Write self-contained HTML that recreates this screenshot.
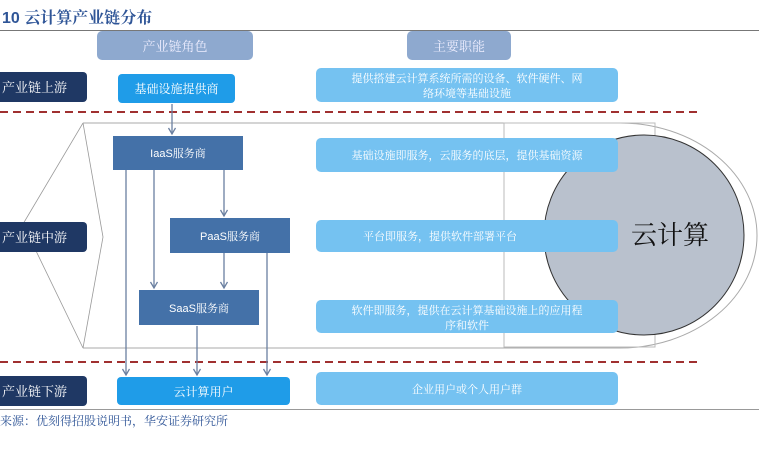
<!DOCTYPE html>
<html><head><meta charset="utf-8"><style>
html,body{margin:0;padding:0;background:#fff;width:759px;height:449px;overflow:hidden}
svg text{font-family:"Liberation Sans","Noto Serif CJK SC","Noto Sans CJK SC",sans-serif}
</style></head><body>
<svg width="759" height="449" viewBox="0 0 759 449" xmlns="http://www.w3.org/2000/svg">
<defs><marker id="a" markerWidth="9" markerHeight="9" refX="7" refY="4" orient="auto" markerUnits="userSpaceOnUse"><path d="M1,0.5 L7,4 L1,7.5" fill="none" stroke="#6a7fa0" stroke-width="1.3"/></marker></defs>
<text x="2" y="23" font-size="16" font-weight="bold" fill="#2f5597">10 云计算产业链分布</text>
<line x1="0" y1="30.5" x2="759" y2="30.5" stroke="#777" stroke-width="1"/>
<path d="M83,123 L620,123 A137,112.5 0 0 1 620,348 L83,348" fill="none" stroke="#aaa" stroke-width="1"/>
<path d="M83,123 L23,224 L83,348 M83,123 L103,237 L83,348" fill="none" stroke="#999" stroke-width="0.8"/>
<rect x="504" y="123" width="151" height="224" fill="none" stroke="#bbb" stroke-width="1"/>
<circle cx="644" cy="235" r="100" fill="#b9c1cd" stroke="#333" stroke-width="1"/>
<text x="670" y="244" font-size="26" text-anchor="middle" fill="#111" font-family="'Noto Serif CJK SC',serif">云计算</text>
<line x1="0" y1="112" x2="697" y2="112" stroke="#a03030" stroke-width="2" stroke-dasharray="8,5"/>
<line x1="0" y1="362" x2="697" y2="362" stroke="#a03030" stroke-width="2" stroke-dasharray="8,5"/>
<rect x="97" y="31" width="156" height="29" rx="5" fill="#8ea9cf"/>
<text x="175" y="51" font-size="13" text-anchor="middle" fill="#eef">产业链角色</text>
<rect x="407" y="31" width="104" height="29" rx="5" fill="#8ea9cf"/>
<text x="459" y="51" font-size="13" text-anchor="middle" fill="#eef">主要职能</text>
<rect x="-10" y="72" width="97" height="30" rx="4" fill="#1f3864"/>
<text x="2" y="92" font-size="13" fill="#fff">产业链上游</text>
<rect x="-10" y="222" width="97" height="30" rx="4" fill="#1f3864"/>
<text x="2" y="242" font-size="13" fill="#fff">产业链中游</text>
<rect x="-10" y="376" width="97" height="30" rx="4" fill="#1f3864"/>
<text x="2" y="396" font-size="13" fill="#fff">产业链下游</text>
<rect x="118" y="74" width="117" height="29" rx="4" fill="#1f9ce8"/>
<text x="176.5" y="93" font-size="12" text-anchor="middle" fill="#fff">基础设施提供商</text>
<rect x="113" y="136" width="130" height="34" fill="#4471a8"/>
<text x="178" y="157" font-size="11" text-anchor="middle" fill="#fff">IaaS服务商</text>
<rect x="170" y="218" width="120" height="35" fill="#4471a8"/>
<text x="230" y="240" font-size="11" text-anchor="middle" fill="#fff">PaaS服务商</text>
<rect x="139" y="290" width="120" height="35" fill="#4471a8"/>
<text x="199" y="312" font-size="11" text-anchor="middle" fill="#fff">SaaS服务商</text>
<rect x="117" y="377" width="173" height="28" rx="4" fill="#1f9ce8"/>
<text x="203.5" y="396" font-size="12" text-anchor="middle" fill="#fff">云计算用户</text>
<g stroke="#6a7fa0" stroke-width="1.3" fill="none">
<line x1="172" y1="104" x2="172" y2="134" marker-end="url(#a)"/>
<line x1="126" y1="170" x2="126" y2="375" marker-end="url(#a)"/>
<line x1="154" y1="170" x2="154" y2="288" marker-end="url(#a)"/>
<line x1="224" y1="170" x2="224" y2="216" marker-end="url(#a)"/>
<line x1="224" y1="253" x2="224" y2="288" marker-end="url(#a)"/>
<line x1="267" y1="253" x2="267" y2="375" marker-end="url(#a)"/>
<line x1="197" y1="326" x2="197" y2="375" marker-end="url(#a)"/>
</g>
<g fill="#75c2f1">
<rect x="316" y="68" width="302" height="34" rx="5"/>
<rect x="316" y="138" width="302" height="34" rx="5"/>
<rect x="316" y="220" width="302" height="32" rx="5"/>
<rect x="316" y="300" width="302" height="33" rx="5"/>
<rect x="316" y="372" width="302" height="33" rx="5"/>
</g>
<g font-size="11" fill="#fff" text-anchor="middle">
<text x="467" y="82">提供搭建云计算系统所需的设备、软件硬件、网</text>
<text x="467" y="97">络环境等基础设施</text>
<text x="467" y="159">基础设施即服务，云服务的底层，提供基础资源</text>
<text x="440" y="240">平台即服务，提供软件部署平台</text>
<text x="467" y="314">软件即服务，提供在云计算基础设施上的应用程</text>
<text x="467" y="329">序和软件</text>
<text x="467" y="393">企业用户或个人用户群</text>
</g>
<line x1="0" y1="409.5" x2="759" y2="409.5" stroke="#999" stroke-width="1"/>
<text x="0" y="425" font-size="12" fill="#2f5597">来源：优刻得招股说明书，华安证券研究所</text>
</svg>
</body></html>
